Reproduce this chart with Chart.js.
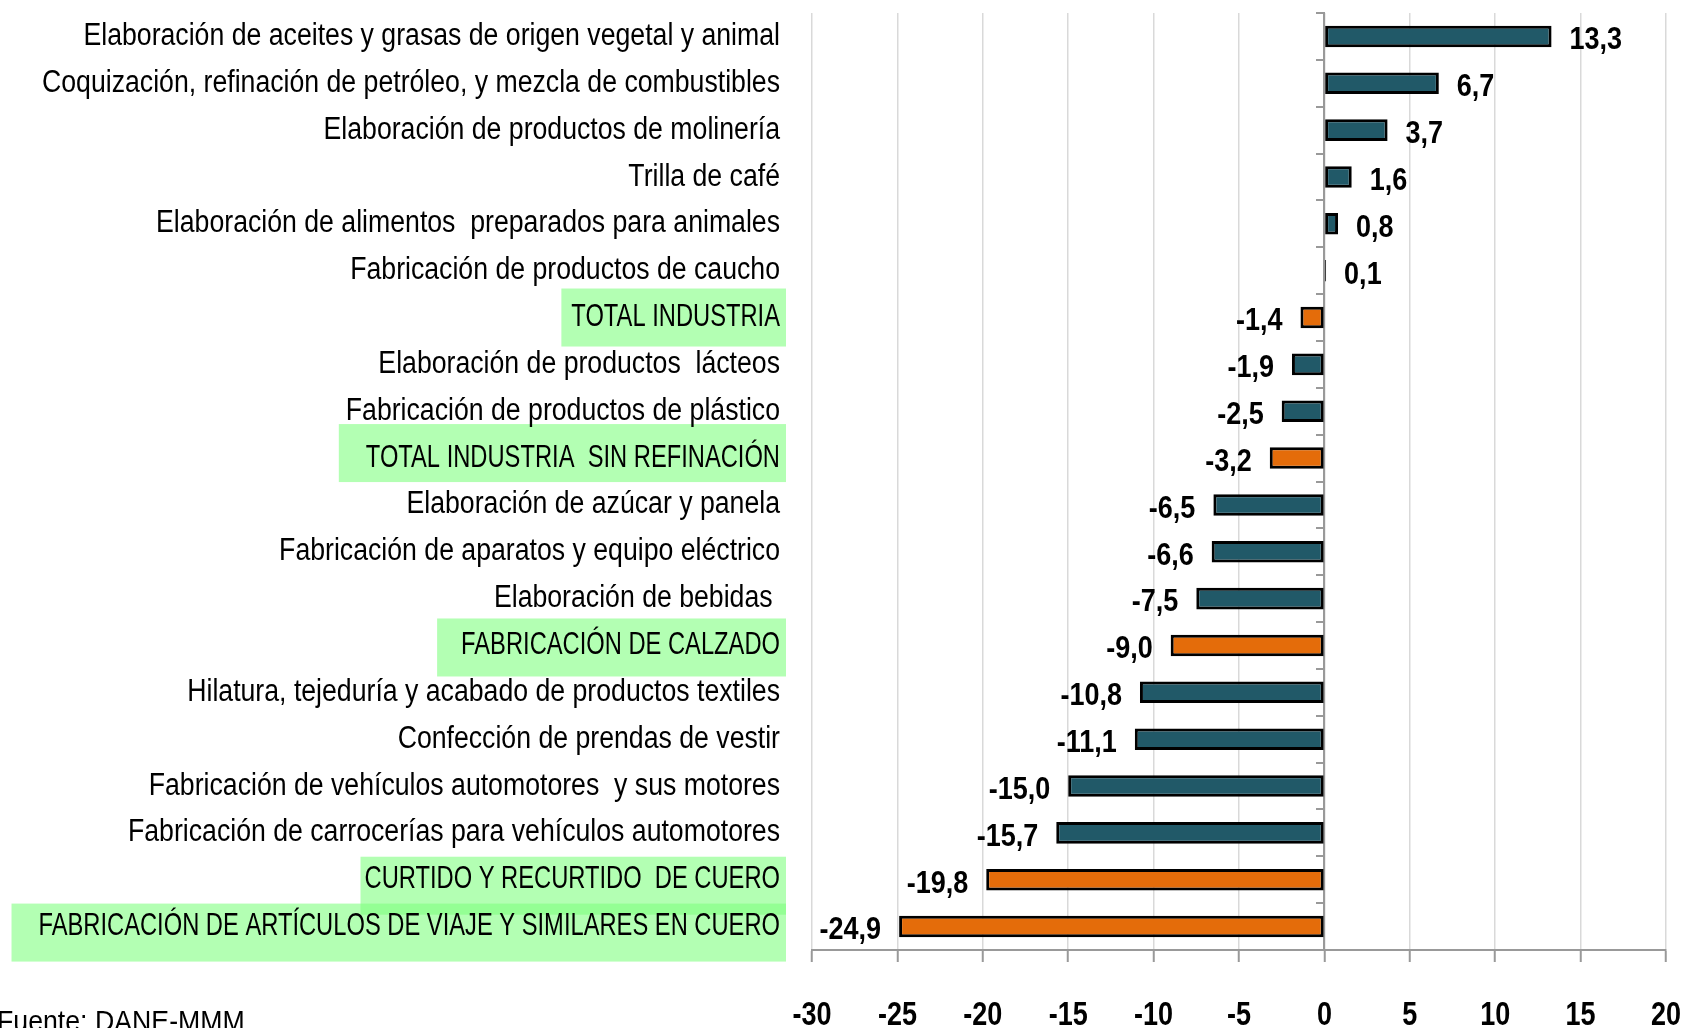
<!DOCTYPE html>
<html>
<head>
<meta charset="utf-8">
<script src="https://cdn.jsdelivr.net/npm/chart.js@4/dist/chart.umd.min.js"></script>
<style>
html,body{margin:0;padding:0;background:#fff;overflow:hidden;}
canvas{display:block;}
</style>
</head>
<body>
<canvas id="c" width="1687" height="1028"></canvas>
<script>
const categories = [
  "Elaboración de aceites y grasas de origen vegetal y animal",
  "Coquización, refinación de petróleo, y mezcla de combustibles",
  "Elaboración de productos de molinería",
  "Trilla de café",
  "Elaboración de alimentos  preparados para animales",
  "Fabricación de productos de caucho",
  "TOTAL INDUSTRIA",
  "Elaboración de productos  lácteos",
  "Fabricación de productos de plástico",
  "TOTAL INDUSTRIA  SIN REFINACIÓN",
  "Elaboración de azúcar y panela",
  "Fabricación de aparatos y equipo eléctrico",
  "Elaboración de bebidas ",
  "FABRICACIÓN DE CALZADO",
  "Hilatura, tejeduría y acabado de productos textiles",
  "Confección de prendas de vestir",
  "Fabricación de vehículos automotores  y sus motores",
  "Fabricación de carrocerías para vehículos automotores",
  "CURTIDO Y RECURTIDO  DE CUERO",
  "FABRICACIÓN DE ARTÍCULOS DE VIAJE Y SIMILARES EN CUERO"
];
const values = [13.3, 6.7, 3.7, 1.6, 0.8, 0.1, -1.4, -1.9, -2.5, -3.2, -6.5, -6.6, -7.5, -9.0, -10.8, -11.1, -15.0, -15.7, -19.8, -24.9];
const highlighted = [false,false,false,false,false,false,true,false,false,true,false,false,false,true,false,false,false,false,true,true];
const xTicks = {min: -30, max: 20, step: 5};
const sourceText = "Fuente: DANE-MMM";

// styling of the green highlight boxes (left padding, vertical nudge), keyed by row
const HL_STYLE = {6: [10, 0], 9: [27, -5], 13: [24, 2], 18: [4, 6], 19: [27, 6]};

const TEAL = "#215968", ORANGE = "#E46C0A";
const FAM = "'Liberation Sans', Arial, sans-serif";
const LABEL_FONT = {family: FAM, size: 31};
const LABEL_PAD = 32;

const fmt = v => v.toFixed(1).replace('.', ',');

// condensed text rendering (the reference uses a narrow, vertically tall face)
function squeezeFor(text, font) {
  const m = /(\d+(?:\.\d+)?)px/.exec(font);
  const size = m ? parseFloat(m[1]) : 30;
  if (/bold/.test(font)) return 27 / size;
  return (text === text.toUpperCase()) ? 0.765 : 0.86;
}
const canvas = document.getElementById('c');
const ctx2d = canvas.getContext('2d');
const origFill = ctx2d.fillText.bind(ctx2d);
ctx2d.fillText = function(text, x, y, maxWidth) {
  const w = this.measureText(text).width * squeezeFor(String(text), this.font);
  return origFill(text, x, y, maxWidth !== undefined ? Math.min(maxWidth, w) : w);
};

const highlightPlugin = {
  id: 'highlight',
  beforeDraw(chart) {
    const ctx = chart.ctx, y = chart.scales.y;
    ctx.save();
    ctx.font = LABEL_FONT.size + "px " + FAM;
    ctx.fillStyle = "rgba(128,255,128,0.6)";
    categories.forEach((c, i) => {
      if (!highlighted[i]) return;
      const st = HL_STYLE[i] || [10, 0];
      const cy = y.getPixelForValue(i) + st[1];
      const right = y.right - LABEL_PAD;
      const w = ctx.measureText(c).width * squeezeFor(c, ctx.font);
      ctx.fillRect(right - w - st[0], cy - 29, w + st[0] + 6, 58);
    });
    ctx.restore();
  }
};

const valueLabelPlugin = {
  id: 'valueLabels',
  afterDatasetsDraw(chart) {
    const ctx = chart.ctx;
    const meta = chart.getDatasetMeta(0);
    ctx.save();
    ctx.font = "bold 32px " + FAM;
    ctx.fillStyle = "#000";
    ctx.textBaseline = "middle";
    meta.data.forEach((bar, i) => {
      const v = values[i];
      if (v >= 0) { ctx.textAlign = "left"; ctx.fillText(fmt(v), bar.x + 18, bar.y + 4); }
      else { ctx.textAlign = "right"; ctx.fillText(fmt(v), bar.x - 18, bar.y + 4); }
    });
    ctx.restore();
  }
};

const sourcePlugin = {
  id: 'source',
  afterDraw(chart) {
    const ctx = chart.ctx;
    ctx.save();
    ctx.font = "30px " + FAM;
    ctx.fillStyle = "#000";
    ctx.textAlign = "left";
    ctx.textBaseline = "alphabetic";
    const w = ctx.measureText(sourceText).width;
    origFill(sourceText, -3, 1031, w * 0.89);
    ctx.restore();
  }
};

new Chart(ctx2d, {
  type: 'bar',
  data: {
    labels: categories,
    datasets: [{
      data: values,
      backgroundColor: highlighted.map(h => h ? ORANGE : TEAL),
      borderColor: "#000",
      borderWidth: 3,
      borderSkipped: false,
      categoryPercentage: 1,
      barPercentage: 0.46,
      yAxisID: 'y'
    }]
  },
  options: {
    indexAxis: 'y',
    responsive: false,
    animation: false,
    layout: {padding: {top: 13, right: 21, left: 0, bottom: 0}},
    plugins: {legend: {display: false}, tooltip: {enabled: false}},
    scales: {
      x: {
        type: 'linear',
        position: 'bottom',
        min: xTicks.min, max: xTicks.max,
        ticks: {stepSize: xTicks.step, color: "#000", font: {family: FAM, size: 34, weight: 'bold'}, padding: 33},
        grid: {color: "#d9d9d9", lineWidth: 1.5, tickLength: 12, tickColor: "#999", tickWidth: 2},
        border: {display: true, color: "#999", width: 2},
        afterFit(s) { s.height = 78; s.paddingLeft = 0; s.paddingRight = 0; }
      },
      y: {
        type: 'category',
        position: 'left',
        offset: true,
        ticks: {color: "#000", font: LABEL_FONT, padding: LABEL_PAD, autoSkip: false},
        grid: {display: false, drawTicks: false},
        border: {display: false},
        afterFit(s) { s.width = 812; s.paddingTop = 0; s.paddingBottom = 0; }
      },
      y2: {
        type: 'category',
        position: {x: 0},
        offset: true,
        labels: categories,
        ticks: {display: false},
        grid: {offset: true, drawOnChartArea: false, drawTicks: true, tickLength: 7, color: "#999", lineWidth: 2},
        border: {display: true, color: "#999", width: 2},
        afterFit(s) { s.paddingTop = 0; s.paddingBottom = 0; }
      }
    }
  },
  plugins: [highlightPlugin, valueLabelPlugin, sourcePlugin]
});
</script>
</body>
</html>
